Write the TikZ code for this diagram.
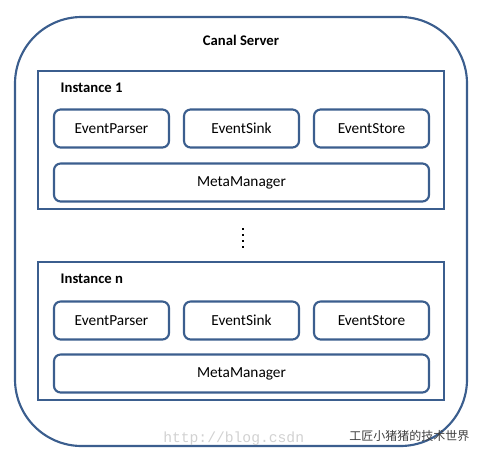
\documentclass[tikz,border=0pt]{standalone}
\usepackage{fontspec}
\setmainfont{Carlito}
\newfontfamily\cjk{Noto Sans CJK SC}
\newfontfamily\wmfont{Liberation Mono}
\definecolor{lineblue}{HTML}{3B5E8E}
\begin{document}
\begin{tikzpicture}[x=0.75pt,y=-0.75pt,
  frame/.style={draw=lineblue,line width=1.6pt},
  comp/.style={draw=lineblue,line width=1.6pt,rounded corners=5pt,font=\fontsize{11.5}{13}\selectfont},
  title/.style={font=\bfseries\fontsize{11}{13}\selectfont,anchor=base}]
\useasboundingbox (0,0) rectangle (485,457);
% outer server
\draw[frame,rounded corners=50pt] (15,17) rectangle (467,446);
\node[title] (server) at (241,45) {Canal Server};
% instance 1
\node[frame,minimum width=406*0.75pt,minimum height=138*0.75pt,inner sep=0pt] (inst1) at (241,140) {};
\node[title,anchor=base west] (l1) at (56,92) {Instance 1};
\node[comp,minimum width=115*0.75pt,minimum height=38*0.75pt] (p1) at (111.5,128.5) {EventParser};
\node[comp,minimum width=115*0.75pt,minimum height=38*0.75pt] (s1) at (241.5,128.5) {EventSink};
\node[comp,minimum width=115*0.75pt,minimum height=38*0.75pt] (t1) at (371.5,128.5) {EventStore};
\node[comp,minimum width=375*0.75pt,minimum height=38*0.75pt] (m1) at (241.5,182.5) {MetaManager};
% dots
\foreach \yy [count=\i] in {229,235,241,247}
  \node[fill=black,minimum size=2.2pt,inner sep=0pt] (d\i) at (243,\yy) {};
% instance n
\node[frame,minimum width=406*0.75pt,minimum height=138*0.75pt,inner sep=0pt] (instn) at (241,331) {};
\node[title,anchor=base west] (ln) at (56,283) {Instance n};
\node[comp,minimum width=115*0.75pt,minimum height=38*0.75pt] (pn) at (111.5,320.5) {EventParser};
\node[comp,minimum width=115*0.75pt,minimum height=38*0.75pt] (sn) at (241.5,320.5) {EventSink};
\node[comp,minimum width=115*0.75pt,minimum height=38*0.75pt] (tn) at (371.5,320.5) {EventStore};
\node[comp,minimum width=375*0.75pt,minimum height=38*0.75pt] (mn) at (241.5,373.5) {MetaManager};
% watermarks
\node[anchor=base west,text=black!18,font=\wmfont\fontsize{11}{13}\selectfont,inner sep=0pt] (url) at (163,442) {http://blog.csdn};
\node[anchor=base west,text=black!75,font=\cjk\fontsize{9}{11}\selectfont,inner sep=0pt] (wm) at (349,440) {工匠小猪猪的技术世界};
\end{tikzpicture}
\end{document}
